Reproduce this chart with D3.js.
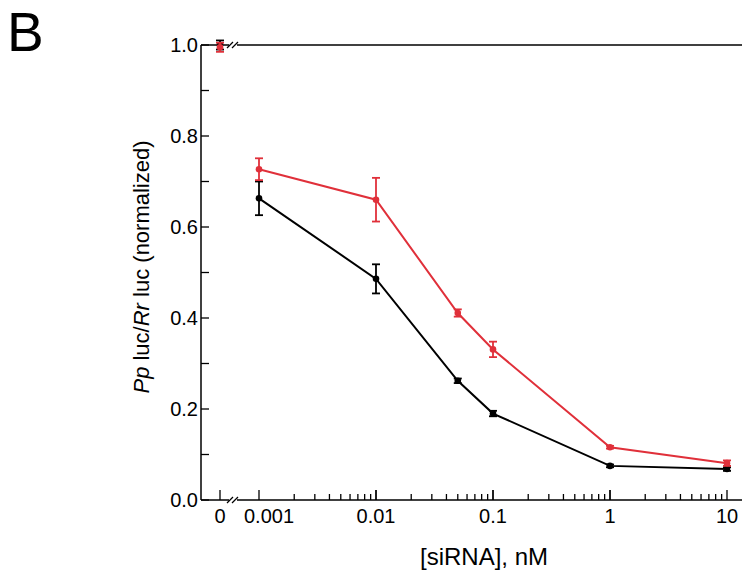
<!DOCTYPE html>
<html>
<head>
<meta charset="utf-8">
<script src="https://cdn.jsdelivr.net/npm/d3@7"></script>
<style>
  body { margin: 0; background: #fff; }
  svg { font-family: "Liberation Sans", Arial, sans-serif; }
</style>
</head>
<body>
<svg width="742" height="571"></svg>
<script>
// concentrations in nM (0 = untreated, drawn left of the axis break)
let conc = [0.001, 0.01, 0.05, 0.1, 1, 10];
let blackVals = [0.663, 0.486, 0.262, 0.19, 0.075, 0.068];
let blackErr = [0.037, 0.032, 0.005, 0.006, 0.003, 0.004];
let redVals = [0.727, 0.66, 0.411, 0.331, 0.116, 0.081];
let redErr = [0.024, 0.048, 0.008, 0.017, 0.003, 0.006];
let zeroVals = {black: 1.0, red: 0.995};
let zeroErr = {black: 0.01, red: 0.01};
let yTicks = [0.0, 0.2, 0.4, 0.6, 0.8, 1.0];
let xTickLabels = ["0.001", "0.01", "0.1", "1", "10"];

let svg = d3.select("svg");
let x = d3.scaleLog().domain([0.001, 10]).range([259, 727]);
let xZero = 220;
let y = d3.scaleLinear().domain([0, 1]).range([500, 45]);
let axisX = 201, axisY = 500;

// panel letter
svg.append("text").attr("x", 7).attr("y", 51).attr("font-size", 55).text("B");

// y axis line and ticks (inward)
svg.append("line").attr("x1", axisX).attr("x2", axisX).attr("y1", y(1)).attr("y2", axisY)
    .attr("stroke", "#000").attr("stroke-width", 1.5);
d3.range(0, 11).forEach(i => {
    let v = i / 10;
    svg.append("line").attr("x1", axisX).attr("x2", axisX + 8).attr("y1", y(v)).attr("y2", y(v))
        .attr("stroke", "#000").attr("stroke-width", 1.3);
});
yTicks.forEach(v => {
    svg.append("text").attr("x", axisX - 3).attr("y", y(v)).attr("dy", "0.36em")
        .attr("text-anchor", "end").attr("font-size", 20).text(v.toFixed(1));
});

// bottom axis line and top line
svg.append("line").attr("x1", axisX).attr("x2", 742).attr("y1", axisY).attr("y2", axisY)
    .attr("stroke", "#000").attr("stroke-width", 1.5);
svg.append("line").attr("x1", axisX).attr("x2", 742).attr("y1", y(1)).attr("y2", y(1))
    .attr("stroke", "#000").attr("stroke-width", 1.5);

// axis breaks
[axisY, y(1)].forEach(yy => {
    svg.append("rect").attr("x", 229).attr("y", yy - 4).attr("width", 8).attr("height", 8).attr("fill", "#fff");
    [229, 234].forEach(bx => {
        svg.append("line").attr("x1", bx - 2).attr("x2", bx + 4).attr("y1", yy + 3).attr("y2", yy - 3)
            .attr("stroke", "#000").attr("stroke-width", 1.3);
    });
});

// x ticks (inward): major at decades, minor in between
svg.append("line").attr("x1", xZero).attr("x2", xZero).attr("y1", axisY).attr("y2", axisY - 10)
    .attr("stroke", "#000").attr("stroke-width", 1.3);
[0.001, 0.01, 0.1, 1].forEach(d => {
    d3.range(1, 11).forEach(m => {
        let v = d * m;
        let major = m === 1 || m === 10;
        svg.append("line").attr("x1", x(v)).attr("x2", x(v)).attr("y1", axisY).attr("y2", axisY - (major ? 10 : 6))
            .attr("stroke", "#000").attr("stroke-width", 1.3);
    });
});
svg.append("text").attr("x", xZero).attr("y", 523).attr("text-anchor", "middle").attr("font-size", 20).text("0");
xTickLabels.forEach((t, i) => {
    // first label is nudged right to clear the "0" label
    svg.append("text").attr("x", x(+t) + (i === 0 ? 10 : 0)).attr("y", 523)
        .attr("text-anchor", "middle").attr("font-size", 20).text(t);
});

// axis titles
svg.append("text").attr("x", 484).attr("y", 565).attr("text-anchor", "middle").attr("font-size", 24).text("[siRNA], nM");
let yl = svg.append("text").attr("transform", "translate(149,267) rotate(-90)")
    .attr("text-anchor", "middle").attr("font-size", 22);
yl.append("tspan").attr("font-style", "italic").text("Pp");
yl.append("tspan").text(" luc/");
yl.append("tspan").attr("font-style", "italic").text("Rr");
yl.append("tspan").text(" luc (normalized)");

// series
function drawSeries(vals, errs, zv, ze, color) {
    let pts = conc.map((c, i) => ({x: x(c), v: vals[i], e: errs[i]}));
    svg.append("path").datum(pts)
        .attr("d", d3.line().x(d => d.x).y(d => y(d.v)))
        .attr("fill", "none").attr("stroke", color).attr("stroke-width", 2);
    let all = pts.concat([{x: xZero, v: zv, e: ze}]);
    all.forEach(d => {
        svg.append("line").attr("x1", d.x).attr("x2", d.x).attr("y1", y(d.v - d.e)).attr("y2", y(d.v + d.e))
            .attr("stroke", color).attr("stroke-width", 1.8);
        [d.v - d.e, d.v + d.e].forEach(ev => {
            svg.append("line").attr("x1", d.x - 4).attr("x2", d.x + 4).attr("y1", y(ev)).attr("y2", y(ev))
                .attr("stroke", color).attr("stroke-width", 1.8);
        });
        svg.append("circle").attr("cx", d.x).attr("cy", y(d.v)).attr("r", 3.3).attr("fill", color);
    });
}
drawSeries(blackVals, blackErr, zeroVals.black, zeroErr.black, "#000");
drawSeries(redVals, redErr, zeroVals.red, zeroErr.red, "#e0303a");
</script>
</body>
</html>
